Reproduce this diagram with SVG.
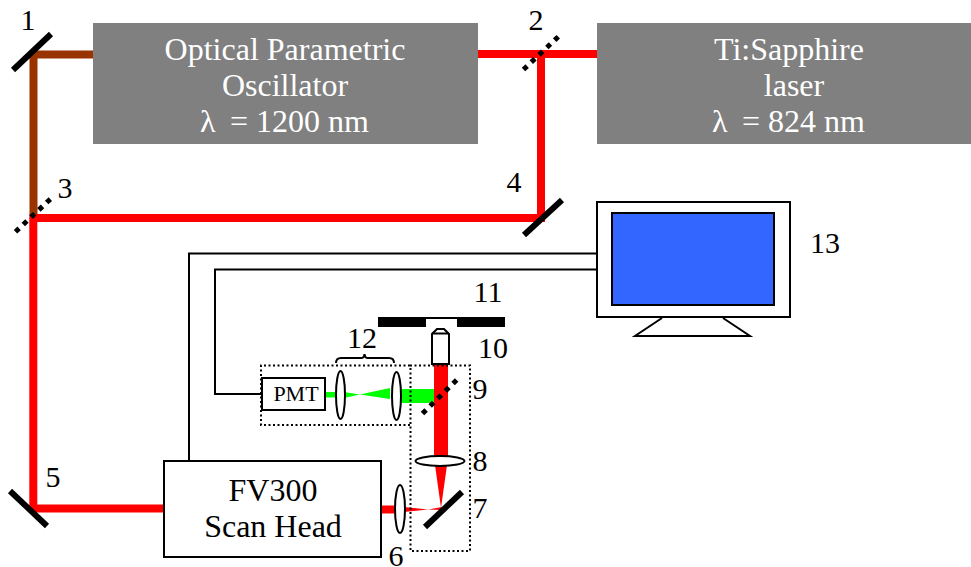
<svg xmlns="http://www.w3.org/2000/svg" width="971" height="567" viewBox="0 0 971 567">
<style>
text{font-family:"Liberation Serif","Times New Roman",serif;fill:#000;font-size:30px}
.w{fill:#fff;text-anchor:middle;font-size:32px}
.s{fill:#fff;font-size:32px}
.c{text-anchor:middle}
.b{text-anchor:middle;font-size:32px}
.box{fill:#808080}
.red{stroke:#f00;stroke-width:8;fill:none}
.brown{stroke:#993300;stroke-width:8;fill:none}
.mirror{stroke:#000;stroke-width:6;fill:none}
.dash{stroke:#000;stroke-width:5;stroke-dasharray:5 5.7;fill:none}
.wire{stroke:#000;stroke-width:2;fill:none}
.lens{fill:#fff;stroke:#000;stroke-width:2}
.dot{fill:none;stroke:#000;stroke-width:2;stroke-dasharray:2 2.5}
</style>
<g id="connectors">
<path class="brown" d="M93 54.500H33.500V214"/>
<path class="red" d="M478 54H597M541 54V214M545 218H33.300M33.300 214V508.500H163"/>
<path class="wire" d="M597 253.500H189V461M597 269.500H215V394H261"/>
<path class="red" d="M382 509.500H398"/>
<polygon fill="#f00" points="404,507 428,509.500 404,512"/>
<polygon fill="#f00" points="428,509.500 442,507 442,510"/>
<polygon fill="#f00" points="435,465 447,465 441,508"/>
<rect x="434" y="365" width="14" height="92" fill="#f00"/>
<polygon fill="#0f0" points="326,392 337,392 337,397.500 326,397.500"/>
<polygon fill="#0f0" points="344,392 360,394.500 344,398"/>
<polygon fill="#0f0" points="360,394.500 390,388 390,399"/>
<polygon fill="#0f0" points="401,389 434,389 434,403 401,403"/>
</g>
<g id="opo"><rect class="box" x="93" y="23" width="385" height="121"/>
<text class="w" x="285" y="60">Optical Parametric</text><text class="w" x="285" y="96">Oscillator</text><text class="s" y="132"><tspan x="200">λ</tspan><tspan x="230">= 1200 nm</tspan></text></g>
<g id="laser"><rect class="box" x="597" y="23" width="374" height="121"/>
<text class="w" x="789" y="60">Ti:Sapphire</text><text class="w" x="794" y="96">laser</text><text class="s" y="132"><tspan x="712">λ</tspan><tspan x="742">= 824 nm</tspan></text></g>
<g id="m1"><line class="mirror" x1="13" y1="70" x2="51" y2="34"/><text class="c" x="28" y="30">1</text></g>
<g id="m2"><line class="dash" x1="523.500" y1="69.500" x2="558.500" y2="36.500"/><text class="c" x="536" y="30">2</text></g>
<g id="m3"><line class="dash" x1="15.500" y1="231.800" x2="50.500" y2="198.900"/><text class="c" x="65" y="198">3</text></g>
<g id="m4"><line class="mirror" x1="524" y1="235" x2="562" y2="200"/><text class="c" x="514" y="192">4</text></g>
<g id="m5"><line class="mirror" x1="10" y1="491" x2="47" y2="526"/><text class="c" x="53" y="487">5</text></g>
<g id="head"><rect x="164" y="461" width="217" height="96" fill="#fff" stroke="#000" stroke-width="2"/>
<text class="b" x="273" y="501">FV300</text><text class="b" x="273" y="537">Scan Head</text></g>
<g id="l6"><ellipse class="lens" cx="400" cy="509" rx="5" ry="24"/><text class="c" x="396" y="566">6</text></g>
<g id="m7"><line class="mirror" x1="425" y1="527" x2="462" y2="492"/><text class="c" x="480" y="518">7</text></g>
<g id="l8"><ellipse class="lens" cx="440" cy="461" rx="24.500" ry="5"/><text class="c" x="480" y="471">8</text></g>
<g id="m9"><line class="dash" x1="422.500" y1="413.500" x2="456.800" y2="379.900"/><text class="c" x="480" y="399">9</text></g>
<g id="objective"><path d="M432 364V334L437 329H444L449 334V364Z" fill="#fff" stroke="#000" stroke-width="2"/><path d="M432 333.500H449" stroke="#000" stroke-width="2"/><text class="c" x="493" y="358">10</text></g>
<g id="sample"><rect x="378" y="317" width="48" height="10" fill="#000"/><rect x="457" y="317" width="48" height="10" fill="#000"/><line x1="426" y1="318" x2="457" y2="318" stroke="#000" stroke-width="2"/><text class="c" x="488" y="302">11</text></g>
<g id="lenses"><ellipse class="lens" cx="340.500" cy="395" rx="4.500" ry="24"/><ellipse class="lens" cx="396.500" cy="396" rx="4.500" ry="24"/>
<path d="M336 363Q336 358 341 358H362Q364 358 364.500 354Q365 358 367 358H389Q394 358 394 363" fill="none" stroke="#000" stroke-width="2"/><text class="c" x="362" y="348">12</text></g>
<g id="pmt"><rect x="262" y="378" width="63" height="32" fill="#fff" stroke="#000" stroke-width="2"/><text class="c" x="296" y="401" style="font-size:22px">PMT</text></g>
<g id="boxes"><path class="dot" d="M410 425H261V365.500H410M410 365.500H470V551H410.500V365.500"/></g>
<g id="monitor"><rect x="597" y="202" width="193" height="115" fill="#fff" stroke="#000" stroke-width="2"/><rect x="612" y="213" width="162" height="92" fill="#36f" stroke="#000" stroke-width="2"/><path d="M662 318L635 336H750L723 318" fill="#fff" stroke="#000" stroke-width="2"/><text class="c" x="825" y="253">13</text></g>
</svg>
